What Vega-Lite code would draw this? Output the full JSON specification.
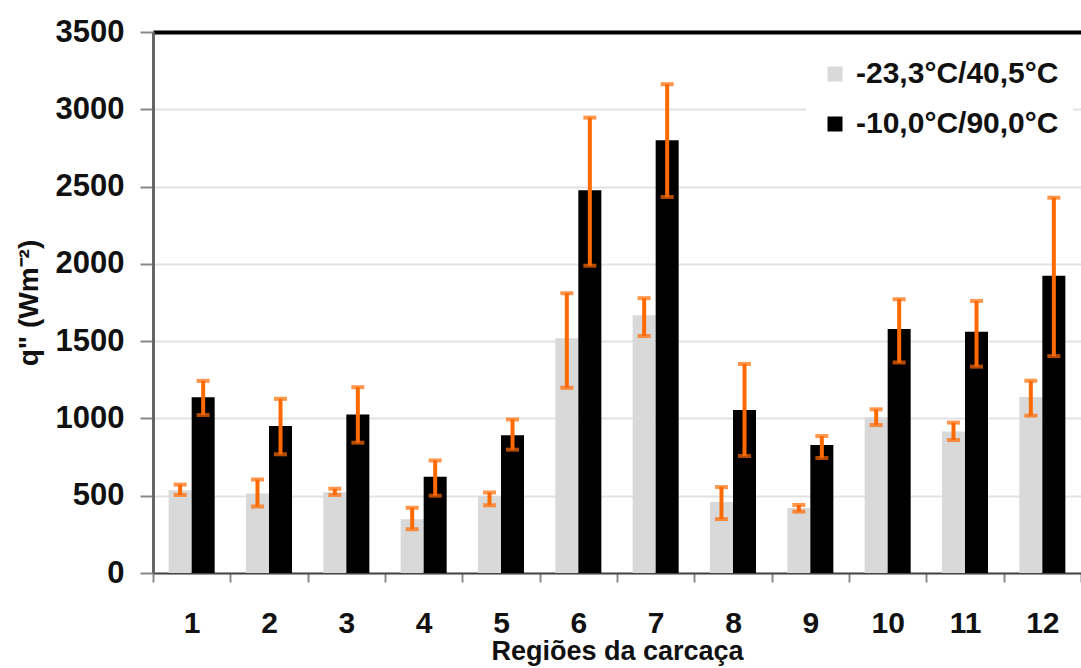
{
  "$schema": "https://vega.github.io/schema/vega-lite/v6.json",
  "autosize": {"type": "none"},
  "padding": {"left": 153, "top": 32, "right": 0, "bottom": 95},
  "width": 928,
  "height": 541,
  "background": "white",
  "config": {
    "view": {"stroke": null},
    "font": "Liberation Sans"
  },
  "data": {
    "values": [
      {"regiao": "1", "serie": "-23,3°C/40,5°C", "q": 535, "lo": 505, "hi": 572},
      {"regiao": "1", "serie": "-10,0°C/90,0°C", "q": 1137, "lo": 1022, "hi": 1243},
      {"regiao": "2", "serie": "-23,3°C/40,5°C", "q": 515, "lo": 430, "hi": 605},
      {"regiao": "2", "serie": "-10,0°C/90,0°C", "q": 951, "lo": 768, "hi": 1127},
      {"regiao": "3", "serie": "-23,3°C/40,5°C", "q": 522, "lo": 505, "hi": 545},
      {"regiao": "3", "serie": "-10,0°C/90,0°C", "q": 1026, "lo": 843, "hi": 1202},
      {"regiao": "4", "serie": "-23,3°C/40,5°C", "q": 348, "lo": 283, "hi": 422},
      {"regiao": "4", "serie": "-10,0°C/90,0°C", "q": 622, "lo": 500, "hi": 728},
      {"regiao": "5", "serie": "-23,3°C/40,5°C", "q": 498, "lo": 438, "hi": 521},
      {"regiao": "5", "serie": "-10,0°C/90,0°C", "q": 891, "lo": 798, "hi": 993},
      {"regiao": "6", "serie": "-23,3°C/40,5°C", "q": 1518, "lo": 1198, "hi": 1810},
      {"regiao": "6", "serie": "-10,0°C/90,0°C", "q": 2477, "lo": 1988, "hi": 2946},
      {"regiao": "7", "serie": "-23,3°C/40,5°C", "q": 1668, "lo": 1533, "hi": 1778},
      {"regiao": "7", "serie": "-10,0°C/90,0°C", "q": 2800, "lo": 2432, "hi": 3162},
      {"regiao": "8", "serie": "-23,3°C/40,5°C", "q": 459, "lo": 349, "hi": 556},
      {"regiao": "8", "serie": "-10,0°C/90,0°C", "q": 1054, "lo": 757, "hi": 1352},
      {"regiao": "9", "serie": "-23,3°C/40,5°C", "q": 420, "lo": 397, "hi": 440},
      {"regiao": "9", "serie": "-10,0°C/90,0°C", "q": 828, "lo": 744, "hi": 886},
      {"regiao": "10", "serie": "-23,3°C/40,5°C", "q": 1007, "lo": 957, "hi": 1059},
      {"regiao": "10", "serie": "-10,0°C/90,0°C", "q": 1579, "lo": 1362, "hi": 1771},
      {"regiao": "11", "serie": "-23,3°C/40,5°C", "q": 916, "lo": 860, "hi": 973},
      {"regiao": "11", "serie": "-10,0°C/90,0°C", "q": 1561, "lo": 1335, "hi": 1760},
      {"regiao": "12", "serie": "-23,3°C/40,5°C", "q": 1138, "lo": 1018, "hi": 1244},
      {"regiao": "12", "serie": "-10,0°C/90,0°C", "q": 1923, "lo": 1403, "hi": 2428}
    ]
  },
  "encoding": {
    "x": {
      "field": "regiao",
      "type": "ordinal",
      "sort": ["1","2","3","4","5","6","7","8","9","10","11","12"],
      "scale": {"paddingInner": 0, "paddingOuter": 0},
      "axis": {
        "title": "Regiões da carcaça",
        "titleFont": "Liberation Sans",
        "titleFontSize": 27,
        "titleFontWeight": "bold",
        "titleColor": "#111",
        "titlePadding": 0,
        "labelAngle": 0,
        "labelFont": "Liberation Sans",
        "labelFontSize": 30,
        "labelFontWeight": "bold",
        "labelColor": "#111",
        "labelPadding": 26,
        "tickBand": "extent",
        "tickColor": "#888",
        "tickSize": 9,
        "tickWidth": 2,
        "domainColor": "#444",
        "domainWidth": 2,
        "grid": false
      }
    },
    "xOffset": {
      "field": "serie",
      "type": "nominal",
      "sort": ["-23,3°C/40,5°C", "-10,0°C/90,0°C"],
      "scale": {"paddingInner": 0, "paddingOuter": 0.68}
    }
  },
  "layer": [
    {
      "mark": {"type": "bar"},
      "encoding": {
        "y": {
          "field": "q",
          "type": "quantitative",
          "scale": {"domain": [0, 3500], "nice": false},
          "axis": {
            "title": "q\" (Wm⁻²)",
            "titleFont": "Liberation Sans",
            "titleFontSize": 28,
            "titleFontWeight": "bold",
            "titleColor": "#111",
            "titlePadding": 12,
            "values": [0, 500, 1000, 1500, 2000, 2500, 3000, 3500],
            "format": "d",
            "labelFont": "Liberation Sans",
            "labelFontSize": 31,
            "labelFontWeight": "bold",
            "labelColor": "#111",
            "labelPadding": 16,
            "tickColor": "#888",
            "tickSize": 13,
            "tickWidth": 2,
            "domainColor": "#666",
            "domainWidth": 3,
            "grid": true,
            "gridColor": {"condition": {"test": "datum.value === 3500", "value": "#000"}, "value": "#e2e2e2"},
            "gridWidth": {"condition": {"test": "datum.value === 3500", "value": 4}, "value": 2}
          }
        },
        "color": {
          "field": "serie",
          "type": "nominal",
          "sort": ["-23,3°C/40,5°C", "-10,0°C/90,0°C"],
          "scale": {"domain": ["-23,3°C/40,5°C", "-10,0°C/90,0°C"], "range": ["#d9d9d9", "#000000"]},
          "legend": {
            "title": null,
            "orient": "none",
            "legendX": 653,
            "legendY": 13,
            "padding": 14,
            "fillColor": "white",
            "symbolType": "square",
            "symbolSize": 225,
            "symbolStrokeWidth": 0,
            "labelFont": "Liberation Sans",
            "labelFontSize": 30,
            "labelFontWeight": "bold",
            "labelColor": "#111",
            "labelOffset": 6,
            "labelLimit": 400,
            "rowPadding": 20
          }
        }
      }
    },
    {
      "mark": {"type": "rule", "color": "#ff6a00", "strokeWidth": 4},
      "encoding": {
        "y": {"field": "lo", "type": "quantitative"},
        "y2": {"field": "hi"}
      }
    },
    {
      "mark": {"type": "tick", "color": "#ff6a00", "thickness": 4, "size": 13},
      "encoding": {
        "y": {"field": "lo", "type": "quantitative"}
      }
    },
    {
      "mark": {"type": "tick", "color": "#ff6a00", "thickness": 4, "size": 13},
      "encoding": {
        "y": {"field": "hi", "type": "quantitative"}
      }
    }
  ]
}
